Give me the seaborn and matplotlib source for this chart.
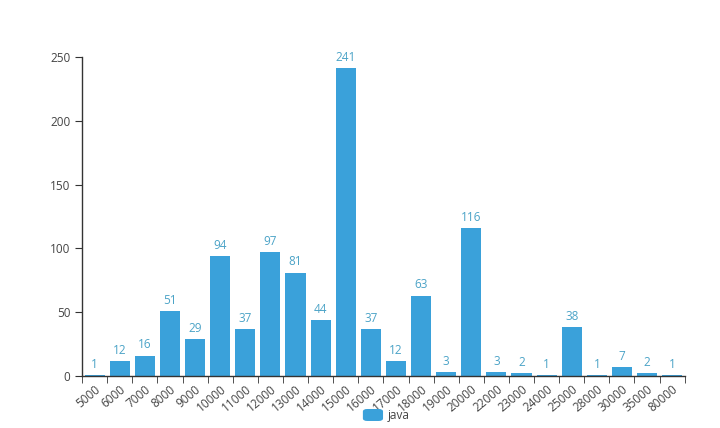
import matplotlib
matplotlib.use("Agg")
import matplotlib.pyplot as plt
import seaborn as sns
import numpy as np
import pandas as pd
from matplotlib.patches import FancyBboxPatch

categories = ["5000", "6000", "7000", "8000", "9000", "10000", "11000", "12000",
              "13000", "14000", "15000", "16000", "17000", "18000", "19000", "20000",
              "22000", "23000", "24000", "25000", "28000", "30000", "35000", "80000"]
values = [1, 12, 16, 51, 29, 94, 37, 97, 81, 44, 241, 37, 12, 63, 3, 116,
          3, 2, 1, 38, 1, 7, 2, 1]
series_name = "java"

sns.set_style("white")
plt.rcParams['font.family'] = ['Open Sans', 'DejaVu Sans']

bar_color = "#3aa1da"
label_color = "#4ba3c7"
axis_color = "#333333"
text_color = "#444444"

df = pd.DataFrame({"cat": categories, "val": values})

fig = plt.figure(figsize=(7.2, 4.28), dpi=100)
ax = fig.add_axes([0.114, 0.1215, 0.837, 0.7455])
sns.barplot(data=df, x="cat", y="val", color=bar_color, saturation=1, width=0.8,
            linewidth=0, edgecolor="none", ax=ax)

n = len(categories)
ax.set_xlim(-0.5, n - 0.5)
ax.set_ylim(0, 250)
ax.set_yticks([0, 50, 100, 150, 200, 250])
ax.set_xlabel("")
ax.set_ylabel("")

for c in ax.containers:
    ax.bar_label(c, labels=[str(v) for v in values], padding=3, color=label_color, fontsize=8.5)

for s in ["top", "right"]:
    ax.spines[s].set_visible(False)
ax.spines["left"].set_color(axis_color)
ax.spines["bottom"].set_color(axis_color)
ax.spines["left"].set_linewidth(1)
ax.spines["bottom"].set_linewidth(1)

ax.tick_params(axis="y", which="major", length=5, color=axis_color, labelcolor=text_color, labelsize=8.5, direction="out", left=True)
ax.tick_params(axis="x", which="major", length=0, labelcolor=text_color, labelsize=8.5, pad=5)
ax.set_xticks(np.arange(-0.5, n, 1.0), minor=True)
ax.tick_params(axis="x", which="minor", length=5, color=axis_color, direction="out", bottom=True)
for lab in ax.get_xticklabels():
    lab.set_rotation(40)
    lab.set_ha("right")
    lab.set_rotation_mode("anchor")
ax.grid(False)

# legend
rect = FancyBboxPatch((0.504, 0.0164), 0.028, 0.028, boxstyle="round,pad=0,rounding_size=0.006",
                      transform=fig.transFigure, facecolor=bar_color, edgecolor="none")
fig.patches.append(rect)
fig.text(0.538, 0.030, series_name, ha="left", va="center", fontsize=8.5, color=text_color)

fig.savefig("out.png", dpi=100)
